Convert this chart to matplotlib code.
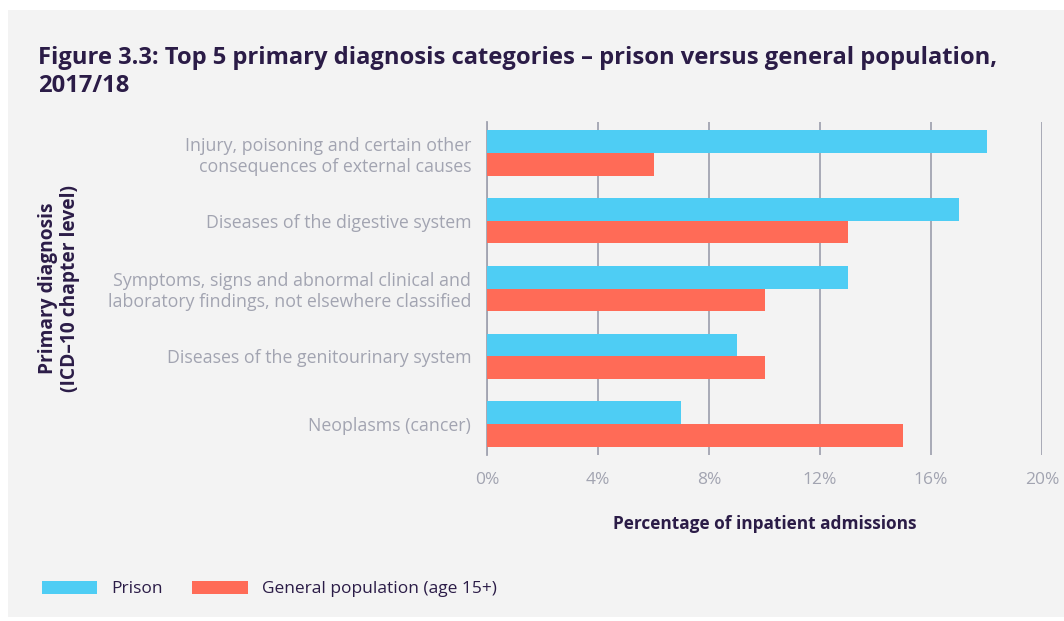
import matplotlib.pyplot as plt
from matplotlib.patches import Patch, Rectangle
import numpy as np

plt.rcParams['font.family'] = ['Open Sans', 'DejaVu Sans']

categories = ['Injury, poisoning and certain other\nconsequences of external causes',
              'Diseases of the digestive system',
              'Symptoms, signs and abnormal clinical and\nlaboratory findings, not elsewhere classified',
              'Diseases of the genitourinary system',
              'Neoplasms (cancer)']
prison = [18, 17, 13, 9, 7]
general = [6, 13, 10, 10, 15]
xticks = [0, 4, 8, 12, 16, 20]
xticklabels = ['0%', '4%', '8%', '12%', '16%', '20%']

bg = '#f3f3f3'
dark = '#2b1c47'
grey = '#a2a4b1'
c_prison = '#4ecdf4'
c_general = '#ff6b57'

fig = plt.figure(figsize=(10.64, 6.21), dpi=100)
fig.patch.set_facecolor('white')
fig.patches.append(Rectangle((8 / 1064, 0.006), 1, 1 - 10 / 621 - 0.006, transform=fig.transFigure,
                             facecolor=bg, edgecolor='none', zorder=-10))

ax = fig.add_axes([487 / 1064, 1 - 455 / 621, 555 / 1064, 333 / 621])
ax.set_facecolor(bg)

y = np.arange(len(categories))
h = 0.335
ax.barh(y - h / 2, prison, height=h, color=c_prison, label='Prison', zorder=3)
ax.barh(y + h / 2, general, height=h, color=c_general, label='General population (age 15+)', zorder=3)

ax.set_xlim(0, 20)
ax.set_ylim(len(categories) - 0.54, -0.46)
ax.set_xticks(xticks)
ax.set_xticklabels(xticklabels)
ax.set_yticks(y)
ax.set_yticklabels(categories)
ax.xaxis.grid(True, color=grey, linewidth=1.3, zorder=0)
for s in ['top', 'right', 'bottom']:
    ax.spines[s].set_visible(False)
ax.spines['left'].set_color(grey)
ax.spines['left'].set_linewidth(1.3)
ax.tick_params(axis='x', length=0, pad=12, labelsize=12.5, labelcolor=grey)
ax.tick_params(axis='y', length=0, pad=11.5, labelsize=12.8, labelcolor=grey)

ax.set_xlabel('Percentage of inpatient admissions', fontsize=12.4, fontweight='bold', color=dark, labelpad=20)

fig.text(38 / 1064, 1 - 72 / 621, 'Figure 3.3: Top 5 primary diagnosis categories – prison versus general population,\n2017/18',
         fontsize=17.1, fontweight='bold', color=dark, ha='left', va='center', linespacing=1.25)

fig.text(59 / 1064, 1 - 288 / 621, 'Primary diagnosis\n(ICD–10 chapter level)', rotation=90,
         fontsize=13.8, fontweight='bold', color=dark, ha='center', va='center', linespacing=1.1)

handles = [Patch(facecolor=c_prison), Patch(facecolor=c_general)]
fig.legend(handles, ['Prison', 'General population (age 15+)'], loc='center left',
           bbox_to_anchor=(26 / 1064, 1 - 589 / 621), ncol=2, frameon=False,
           fontsize=12.5, handlelength=3.2, handleheight=0.8, handletextpad=0.8, columnspacing=1.7,
           labelcolor=dark)

fig.savefig('out.png', dpi=100, facecolor=fig.get_facecolor())
